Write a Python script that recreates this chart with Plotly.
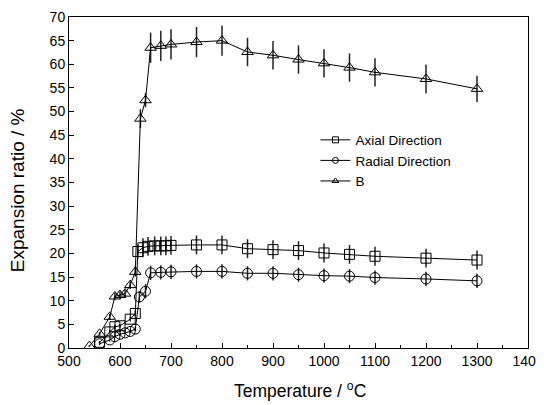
import plotly.graph_objects as go

# Axial Direction
axial_T = [560, 580, 590, 600, 620, 630, 635, 645, 655, 668, 680, 690, 700,
           750, 800, 850, 900, 950, 1000, 1050, 1100, 1200, 1300]
axial_V = [1.2, 3.4, 4.5, 4.7, 6.1, 7.3, 20.4, 21.2, 21.5, 21.6, 21.6, 21.6, 21.7,
           21.8, 21.8, 21.0, 20.8, 20.6, 20.1, 19.8, 19.4, 19.0, 18.6]
axial_E = [0.3, 0.4, 0.4, 0.4, 0.5, 0.6, 1.5, 2.0, 2.0, 2.0, 2.0, 2.0, 2.0,
           2.0, 2.0, 2.0, 2.0, 2.0, 2.0, 2.0, 2.0, 2.0, 2.0]

# Radial Direction
radial_T = [560, 580, 590, 600, 610, 620, 630, 638, 650, 660, 680, 700,
            750, 800, 850, 900, 950, 1000, 1050, 1100, 1200, 1300]
radial_V = [0.9, 1.7, 2.4, 2.9, 3.2, 3.5, 4.0, 10.8, 12.0, 15.9, 16.0, 16.1,
            16.2, 16.2, 15.8, 15.8, 15.5, 15.3, 15.2, 14.9, 14.6, 14.2]
radial_E = [0.3, 0.3, 0.3, 0.3, 0.3, 0.3, 0.4, 1.2, 1.5, 1.5, 1.5, 1.5,
            1.5, 1.5, 1.5, 1.5, 1.5, 1.5, 1.5, 1.5, 1.5, 1.5]

# B
b_T = [540, 560, 580, 590, 600, 610, 620, 630, 640, 650, 660, 680, 700,
       750, 800, 850, 900, 950, 1000, 1050, 1100, 1200, 1300]
b_V = [0.4, 3.0, 6.6, 10.9, 11.2, 11.5, 13.3, 16.1, 48.5, 52.4, 63.5, 63.9, 64.2,
       64.7, 65.0, 62.6, 61.9, 61.0, 60.2, 59.3, 58.3, 56.9, 54.8]
b_E = [0.2, 0.4, 0.6, 0.8, 0.8, 0.8, 0.8, 1.0, 2.0, 1.5, 3.2, 3.2, 3.2,
       3.2, 3.2, 3.0, 3.0, 3.0, 3.0, 3.0, 3.0, 3.0, 2.8]

series_names = ["Axial Direction", "Radial Direction", "B"]
symbols = ["square-open", "circle-open", "triangle-up-open"]

x_ticks = [500, 600, 700, 800, 900, 1000, 1100, 1200, 1300, 1400]
y_ticks = list(range(0, 75, 5))

fig = go.Figure()

def add(name, xs, ys, es, symbol):
    fig.add_trace(go.Scatter(
        x=xs, y=ys, name=name, mode="lines+markers", showlegend=False,
        line=dict(color="black", width=1),
        marker=dict(symbol=symbol, size=10, color="black",
                    line=dict(color="black", width=1)),
        error_y=dict(type="data", array=es, visible=True,
                     color="#222222", thickness=1.5, width=0),
    ))

add(series_names[0], axial_T, axial_V, axial_E, symbols[0])
add(series_names[1], radial_T, radial_V, radial_E, symbols[1])
add(series_names[2], b_T, b_V, b_E, symbols[2])

# legend-only entries with small markers, as in the reference legend
for nm, sym in zip(series_names, symbols):
    fig.add_trace(go.Scatter(
        x=[None], y=[None], name=nm, mode="lines+markers",
        line=dict(color="black", width=1),
        marker=dict(symbol=sym, size=6, color="black",
                    line=dict(color="black", width=1)),
    ))

# page body has an 8px margin, so the figure is sized to fit the window
fig.update_layout(
    template="none",
    width=536, height=397,
    margin=dict(l=61, r=16, t=9, b=57, autoexpand=False),
    paper_bgcolor="white", plot_bgcolor="white",
    font=dict(family="Liberation Sans, Arial, sans-serif", color="black", size=14),
    showlegend=True,
    legend=dict(x=0.537, y=0.675, xanchor="left", yanchor="top",
                bgcolor="rgba(0,0,0,0)", font=dict(size=13.5),
                tracegroupgap=0, itemwidth=30),
    xaxis=dict(
        range=[500, 1400], tickvals=x_ticks, ticks="inside", ticklen=5,
        tickwidth=1, tickcolor="black", automargin=False,
        minor=dict(dtick=50, ticks="inside", ticklen=3, tickcolor="black"),
        showgrid=False, zeroline=False, showline=True, linecolor="black",
        linewidth=1, mirror=True,
    ),
    yaxis=dict(
        range=[0, 70], tickvals=y_ticks, ticks="inside", ticklen=5,
        tickwidth=1, tickcolor="black", automargin=False,
        showgrid=False, zeroline=False, showline=True, linecolor="black",
        linewidth=1, mirror=True,
    ),
    annotations=[
        dict(text="Temperature / <sup>o</sup>C", xref="paper", yref="paper",
             x=0.503, y=-0.127, xanchor="center", yanchor="middle",
             showarrow=False, font=dict(size=17.5)),
        dict(text="Expansion ratio / %", xref="paper", yref="paper",
             x=-0.113, y=0.477, xanchor="center", yanchor="middle",
             textangle=-90, showarrow=False, font=dict(size=19)),
    ],
)

fig.write_html("out.html")
